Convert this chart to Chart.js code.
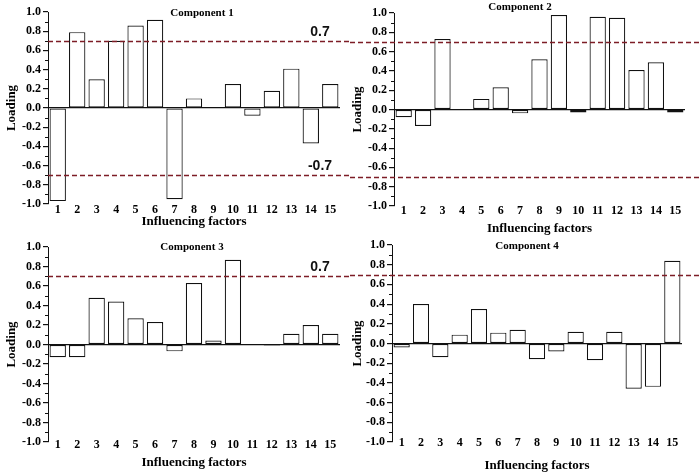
<!DOCTYPE html>
<html>
<head>
<meta charset="utf-8">
<script src="https://cdn.jsdelivr.net/npm/chart.js@4.4.1/dist/chart.umd.min.js"></script>
<style>
  html, body { margin: 0; padding: 0; background: #fff; }
  body { position: relative; width: 699px; height: 476px; overflow: hidden; }
  canvas { position: absolute; }
</style>
</head>
<body>
<canvas id="c1" width="350" height="235" style="left:0;top:0"></canvas>
<canvas id="c2" width="349" height="240" style="left:350px;top:0"></canvas>
<canvas id="c3" width="350" height="246" style="left:0;top:230px"></canvas>
<canvas id="c4" width="349" height="246" style="left:350px;top:230px"></canvas>
<script>
// factor loadings
const factors = ['1', '2', '3', '4', '5', '6', '7', '8', '9', '10', '11', '12', '13', '14', '15'];
const componentNames = ['Component 1', 'Component 2', 'Component 3', 'Component 4'];
const comp1 = [-0.97, 0.79, 0.30, 0.70, 0.86, 0.92, -0.95, 0.10, 0.01, 0.25, -0.08, 0.18, 0.41, -0.37, 0.25];
const comp2 = [-0.08, -0.17, 0.73, 0.00, 0.11, 0.23, -0.04, 0.52, 0.98, -0.03, 0.96, 0.95, 0.41, 0.49, -0.03];
const comp3 = [-0.13, -0.13, 0.48, 0.44, 0.27, 0.23, -0.07, 0.63, 0.04, 0.87, 0.00, -0.01, 0.11, 0.20, 0.11];
const comp4 = [-0.04, 0.40, -0.14, 0.09, 0.35, 0.11, 0.14, -0.16, -0.08, 0.12, -0.17, 0.12, -0.46, -0.44, 0.84];
const thresholds = [0.7, -0.7];
const thresholdLabels = ['0.7', '-0.7'];
const yMin = -1.0;
const yMax = 1.0;
const yStep = 0.1;

const SERIF = "'Liberation Serif', 'Times New Roman', serif";

// labelled ticks every 0.2, short minor ticks in between
const isMajor = (v) => Math.round(v * 10) % 2 === 0;

/** Dashed cut-off lines, minor y ticks and the panel caption */
const annotate = {
  id: 'annotate',
  afterDatasetsDraw(chart, args, opts) {
    const { ctx, chartArea } = chart;
    const y = chart.scales.y;
    ctx.save();

    ctx.strokeStyle = '#111';
    ctx.lineWidth = 1;
    y.ticks.filter((t) => !isMajor(t.value)).forEach((t) => {
      const py = Math.round(y.getPixelForValue(t.value)) + 0.5;
      ctx.beginPath();
      ctx.moveTo(chartArea.left - 3, py);
      ctx.lineTo(chartArea.left, py);
      ctx.stroke();
    });

    const x0 = opts.fromEdge ? 0 : chartArea.left;
    opts.lines.forEach((v, i) => {
      const py = Math.round(y.getPixelForValue(v)) + 0.5;
      ctx.strokeStyle = '#7d1d26';
      ctx.lineWidth = 1.6;
      ctx.setLineDash([5, 3]);
      ctx.beginPath();
      ctx.moveTo(x0, py);
      ctx.lineTo(chart.width, py);
      ctx.stroke();
      const label = opts.labels[i];
      if (label) {
        ctx.setLineDash([]);
        ctx.fillStyle = '#111';
        ctx.font = "bold 14px 'Liberation Sans', Arial, sans-serif";
        ctx.textAlign = 'center';
        ctx.textBaseline = 'bottom';
        ctx.fillText(label, opts.labelX, py - 2);
      }
    });
    ctx.fillStyle = '#000';
    ctx.font = 'bold 11px ' + SERIF;
    ctx.textAlign = 'center';
    ctx.textBaseline = 'middle';
    ctx.fillText(opts.title, opts.titleX, opts.titleY);
    ctx.restore();
  },
};

function renderPanel(id, data, p) {
  const canvas = document.getElementById(id);
  return new Chart(canvas, {
    type: 'bar',
    data: {
      labels: factors,
      datasets: [{
        data,
        backgroundColor: '#fff',
        borderColor: '#111',
        borderWidth: 1.2,
        borderSkipped: false,
        categoryPercentage: 1,
        barPercentage: 0.84,
      }],
    },
    options: {
      responsive: false,
      animation: false,
      events: [],
      layout: { padding: { left: 0, right: p.right, top: p.top, bottom: p.bottom } },
      plugins: {
        legend: { display: false },
        tooltip: { enabled: false },
        annotate: {
          lines: p.lines, labels: p.labels, fromEdge: p.fromEdge, labelX: 320,
          title: p.title, titleX: p.titleX, titleY: p.titleY,
        },
      },
      scales: {
        x: {
          grid: { display: false, drawTicks: false },
          border: { display: false },
          ticks: {
            // mirror stops the labels being clipped when they sit up at the -1.0 level
            color: '#000', autoSkip: false, maxRotation: 0, mirror: true, padding: p.xPad,
            font: { family: SERIF, size: 12, weight: 'bold' },
          },
          title: {
            display: true, text: 'Influencing factors', color: '#000', padding: 0,
            font: { family: SERIF, size: 13, weight: 'bold' },
          },
          afterFit: (s) => { s.height = p.xH; },
        },
        y: {
          min: yMin,
          max: yMax,
          grid: {
            color: (c) => (c.tick && Math.abs(c.tick.value) < 1e-9 ? '#111' : 'rgba(0,0,0,0)'),
            lineWidth: 1.2,
            tickColor: (c) => (c.tick && isMajor(c.tick.value) ? '#111' : 'rgba(0,0,0,0)'),
            tickLength: 5,
          },
          border: { display: true, color: '#111', width: 1 },
          ticks: {
            stepSize: yStep, color: '#000', padding: 2, autoSkip: false,
            font: { family: SERIF, size: 12, weight: 'bold' },
            callback: (v) => (isMajor(v) ? v.toFixed(1) : ''),
          },
          title: {
            display: true, text: 'Loading', color: '#000', padding: { top: p.yTitlePad, bottom: 0 },
            font: { family: SERIF, size: 13, weight: 'bold' },
          },
          afterFit: (s) => { s.width = p.yW; },
        },
      },
    },
    plugins: [annotate],
  });
}

renderPanel('c1', comp1, {
  right: 10, top: 12, bottom: 6, yW: 48, xH: 25, xPad: -13, yTitlePad: 4,
  lines: thresholds, labels: thresholdLabels, fromEdge: false,
  title: componentNames[0], titleX: 202, titleY: 13,
});
renderPanel('c2', comp2, {
  right: 14, top: 13, bottom: 4, yW: 44, xH: 30, xPad: -12, yTitlePad: 0,
  lines: thresholds, labels: [], fromEdge: true,
  title: componentNames[1], titleX: 170, titleY: 7,
});
renderPanel('c3', comp3, {
  right: 10, top: 17, bottom: 6, yW: 48, xH: 28, xPad: -10, yTitlePad: 4,
  lines: thresholds.slice(0, 1), labels: thresholdLabels.slice(0, 1), fromEdge: false,
  title: componentNames[2], titleX: 192, titleY: 17,
});
renderPanel('c4', comp4, {
  right: 17, top: 15, bottom: 3, yW: 42, xH: 31, xPad: -8.5, yTitlePad: 0,
  lines: thresholds.slice(0, 1), labels: [], fromEdge: true,
  title: componentNames[3], titleX: 177, titleY: 16,
});
</script>
</body>
</html>
